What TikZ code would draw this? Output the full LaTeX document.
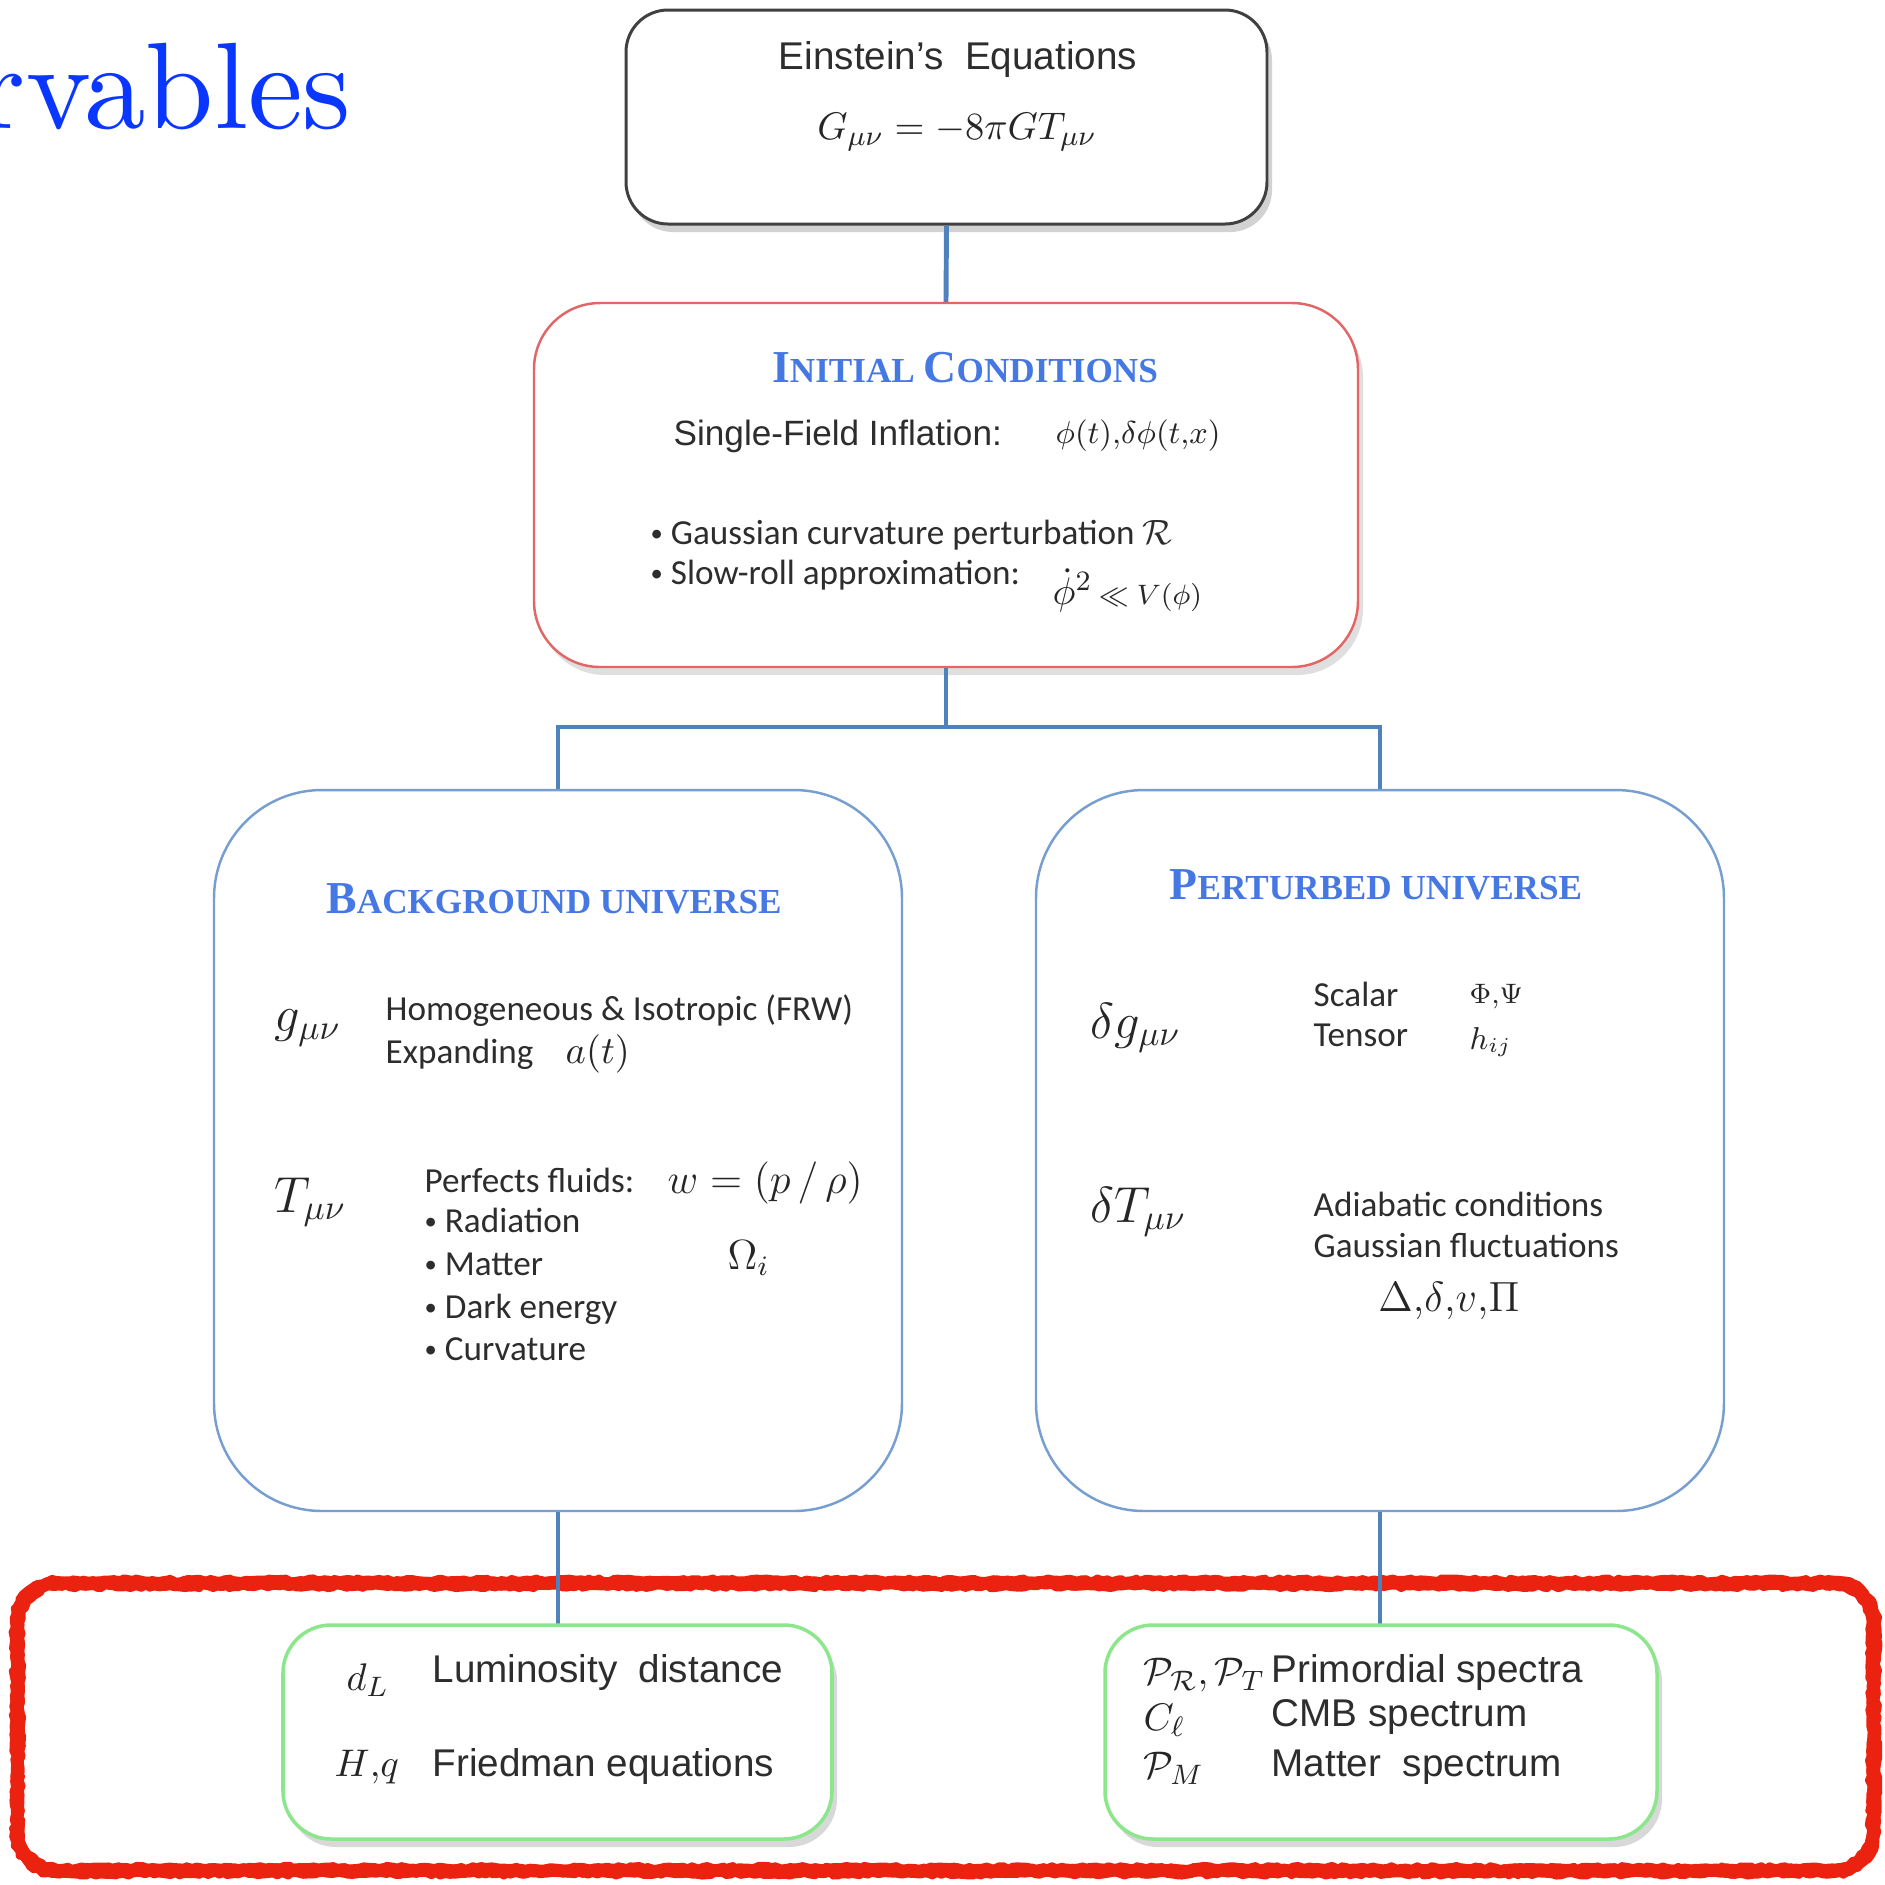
\documentclass[tikz,border=0pt]{standalone}
\usepackage{fontspec}
\usepackage{amsmath,amssymb}
\newfontfamily\arialf{Liberation Sans}
\newfontfamily\calf{Carlito}
\newfontfamily\serf{Liberation Serif}
\newfontfamily\lmten{lmroman10-regular}[Extension=.otf]
\usetikzlibrary{shadows,decorations.pathmorphing}
\definecolor{linkblue}{RGB}{79,129,189}
\definecolor{univblue}{RGB}{118,158,208}
\definecolor{icred}{RGB}{226,102,102}
\definecolor{obsgreen}{RGB}{140,230,140}
\definecolor{roughred}{RGB}{236,34,17}
\definecolor{titleblue}{RGB}{70,120,228}
\definecolor{headblue}{RGB}{10,55,255}
\definecolor{txtgray}{RGB}{45,45,45}
\newcommand{\fs}[1]{\fontsize{#1}{#1}\selectfont}
\newcommand{\bigsc}[2]{{\fs{13}#1}{\fs{10}#2}}
\newcommand{\smbul}{\raisebox{0.2ex}{\fs{7}\textbullet}}
\begin{document}
\begin{tikzpicture}[x=0.1mm,y=-0.1mm,
  einbox/.style={rectangle, rounded corners=4.2mm, draw=black!75, line width=0.85pt, fill=white,
    drop shadow={shadow xshift=0.5mm, shadow yshift=-0.8mm, opacity=0.35}},
  icbox/.style={rectangle, rounded corners=6.6mm, draw=icred, line width=0.7pt, fill=white,
    drop shadow={shadow xshift=0.5mm, shadow yshift=-0.8mm, opacity=0.25}},
  univbox/.style={rectangle, rounded corners=10.8mm, draw=univblue, line width=0.7pt, fill=white},
  grbox/.style={rectangle, rounded corners=4.8mm, draw=obsgreen, line width=1pt, fill=white,
    drop shadow={shadow xshift=0.5mm, shadow yshift=-0.8mm, opacity=0.3}},
  obsarea/.style={rectangle, inner sep=0},
  rough/.style={draw=roughred, line width=#1, line join=round, line cap=round,
    decorate, decoration={random steps, segment length=1.4pt, amplitude=0.45pt}},
  rough/.default=3.6pt,
  link/.style={draw=linkblue, line width=1.4pt},
  txt/.style={inner sep=0, anchor=west, text=txtgray, text height=1.5ex, text depth=.25ex},
  ar/.style={txt, font=\arialf\fs{11}},
  cal/.style={txt, font=\calf\fs{10}},
  mth/.style={inner sep=0, anchor=west, text=black!85},
  titl/.style={inner sep=0, text=titleblue, font=\serf\bfseries\fs{10}}
]
\useasboundingbox (0,0) rectangle (1885,1885);
\fill[white] (0,0) rectangle (1885,1885);
\pgfmathsetseed{7}

% heading fragment
\node[anchor=base east, inner sep=0, text=headblue, font=\lmten\fs{35}] (head) at (352,128) {rvables};

% boxes
\node[einbox, minimum width=64.1mm, minimum height=21.4mm] (ein) at (946.5,117) {};
\node[icbox, minimum width=82.4mm, minimum height=36.4mm] (ic) at (946,485) {};
\node[univbox, minimum width=68.8mm, minimum height=72.1mm] (bg) at (558,1150.5) {};
\node[univbox, minimum width=68.8mm, minimum height=72.1mm] (pt) at (1380,1150.5) {};

% rough red frame (hand-drawn look)
\node[obsarea, minimum width=185.5mm, minimum height=28.6mm] (obs) at (945.5,1727) {};
\path[rough] [rounded corners=4mm] (obs.north west) rectangle (obs.south east) [sharp corners];
\path[rough=1.3pt] [rounded corners=4.4mm] ([xshift=-0.5mm,yshift=0.5mm]obs.north west) rectangle ([xshift=0.5mm,yshift=-0.5mm]obs.south east) [sharp corners];
\path[rough=1.3pt] [rounded corners=3.6mm] ([xshift=0.5mm,yshift=-0.5mm]obs.north west) rectangle ([xshift=-0.5mm,yshift=0.5mm]obs.south east) [sharp corners];

% connectors
\coordinate (bus) at (946,727);
\draw[link] (ein.south) -- (ic.north);
\draw[link] (ic.south) -- (bus) -| (bg.north);
\draw[link] (bus) -| (pt.north);
\draw[link] (bg.south) -- (bg.south |- 0,1625);
\draw[link] (pt.south) -- (pt.south |- 0,1625);

\node[grbox, minimum width=54.9mm, minimum height=21.4mm] (gl) at (557.5,1732) {};
\node[grbox, minimum width=55.2mm, minimum height=21.4mm] (gr) at (1381,1732) {};

% Einstein
\node[ar, anchor=center] (einT) at (958,60) {Einstein’s\ \ Equations};
\node[mth, anchor=center] (einEq) at (957,132) {\fs{11}$G_{\mu\nu} = -8\pi G T_{\mu\nu}$};

% Initial conditions
\node[titl] (icT) at (965,368) {\bigsc{I}{NITIAL} \bigsc{C}{ONDITIONS}};
\node[ar, font=\arialf\fs{10}] (sfi) at (673,436) {Single-Field Inflation:};
\node[mth] (sfiM) at (1055,436) {\fs{9}$\phi(t){,}\delta\phi(t{,}x)$};
\node[cal] (b1) at (650,535) {\smbul\ Gaussian curvature perturbation $\mathcal{R}$};
\node[cal] (b2) at (650,575) {\smbul\ Slow-roll approximation:};
\node[mth] (b2m) at (1052,590) {\fs{11}$\dot{\phi}^{2}$\,{\fs{8}$\ll V(\phi)$}};

% Background universe
\node[titl] (bgT) at (554,899) {\bigsc{B}{ACKGROUND} UNIVERSE};
\node[mth] (g) at (274,1028) {\fs{14}$g_{\mu\nu}$};
\node[cal] (hom) at (385,1011) {Homogeneous \& Isotropic (FRW)};
\node[cal] (expd) at (385,1054) {Expanding};
\node[mth] (at) at (565,1054) {\fs{11}$a(t)$};
\node[mth] (T) at (274,1202) {\fs{14}$T_{\mu\nu}$};
\node[cal] (pf) at (424,1183) {Perfects fluids:};
\node[mth] (w) at (667,1183) {\fs{12}$w=(p\,/\,\rho)$};
\node[cal] (r1) at (424,1223) {\smbul\ Radiation};
\node[cal] (r2) at (424,1266) {\smbul\ Matter};
\node[cal] (r3) at (424,1309) {\smbul\ Dark energy};
\node[cal] (r4) at (424,1351) {\smbul\ Curvature};
\node[mth] (om) at (727,1258) {\fs{12}$\Omega_i$};

% Perturbed universe
\node[titl] (ptT) at (1376,885) {\bigsc{P}{ERTURBED} UNIVERSE};
\node[mth] (dg) at (1090,1028) {\fs{14}$\delta g_{\mu\nu}$};
\node[cal] (sc) at (1313,997) {Scalar};
\node[mth] (phps) at (1469,997) {\fs{8}$\Phi{,}\Psi$};
\node[cal] (te) at (1313,1037) {Tensor};
\node[mth] (hij) at (1469,1042) {\fs{9}$h_{ij}$};
\node[mth] (dT) at (1090,1212) {\fs{14}$\delta T_{\mu\nu}$};
\node[cal] (ad) at (1313,1207) {Adiabatic conditions};
\node[cal] (gf) at (1313,1248) {Gaussian fluctuations};
\node[mth, anchor=center] (dv) at (1449,1301) {\fs{12}$\Delta{,}\delta{,}v{,}\Pi$};

% Observables
\node[mth] (dL) at (346,1680) {\fs{11}$d_L$};
\node[ar] (lum) at (432,1673) {Luminosity\ \ distance};
\node[mth] (Hq) at (334,1767) {\fs{11}$H{,}q$};
\node[ar] (fri) at (432,1767) {Friedman equations};
\node[mth] (PRT) at (1143,1675) {\fs{11}$\mathcal{P}_{\mathcal{R}},\mathcal{P}_T$};
\node[ar] (prim) at (1271,1673) {Primordial spectra};
\node[mth] (Cl) at (1143,1720) {\fs{11}$C_\ell$};
\node[ar] (cmb) at (1271,1717) {CMB spectrum};
\node[mth] (PM) at (1143,1768) {\fs{11}$\mathcal{P}_M$};
\node[ar] (mat) at (1271,1767) {Matter\ \ spectrum};
\end{tikzpicture}
\end{document}
